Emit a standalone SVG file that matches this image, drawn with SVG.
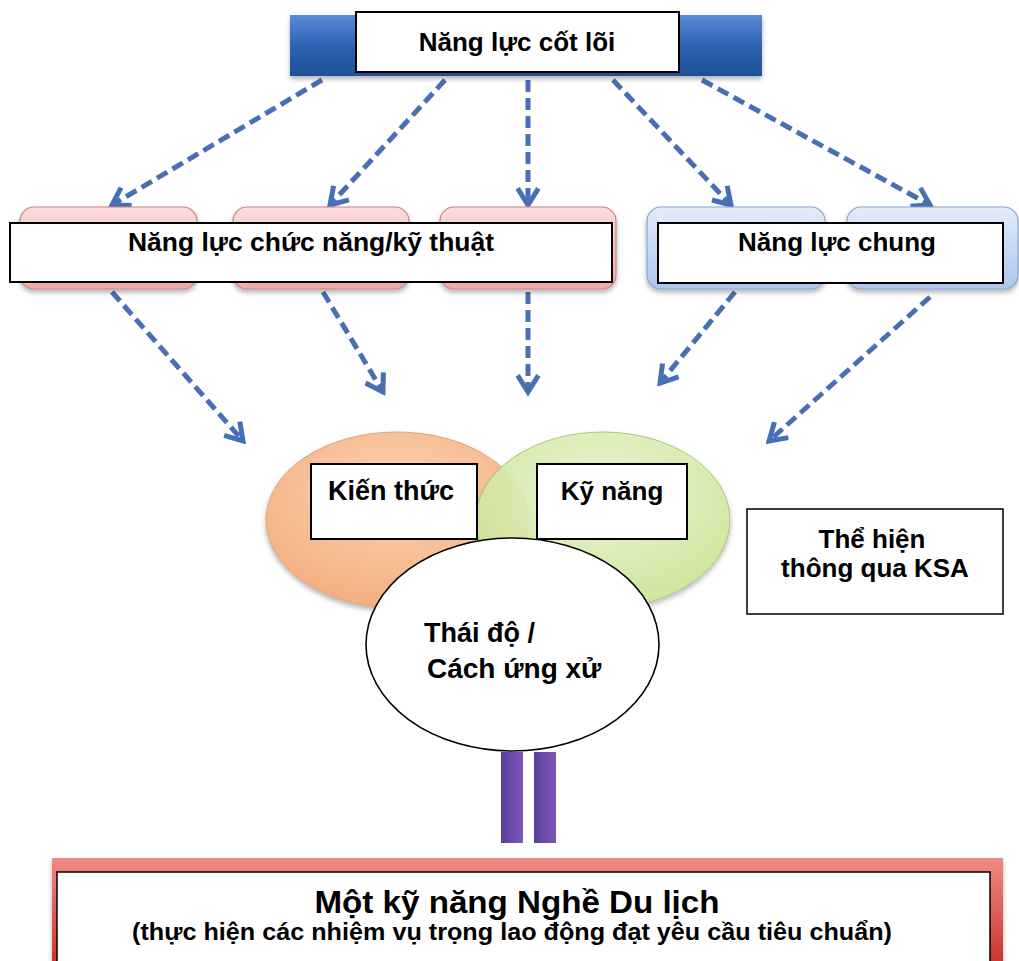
<svg xmlns="http://www.w3.org/2000/svg" width="1019" height="961" viewBox="0 0 1019 961">
<defs>
<style>
.lbl{font-family:"Liberation Sans",Arial,sans-serif;font-weight:bold;fill:#000;}
.wbox{fill:#fff;stroke:#000;stroke-width:2;}
.arr{fill:none;stroke:#4670b4;stroke-width:5;stroke-dasharray:12 6;marker-end:url(#ah);}
</style>
<marker id="ah" viewBox="0 0 12 12" refX="10" refY="6" markerWidth="5" markerHeight="5" orient="auto" markerUnits="strokeWidth">
<path d="M2,1 L10,6 L2,11" fill="none" stroke="#4670b4" stroke-width="2.4" stroke-linejoin="miter"/>
</marker>
<linearGradient id="gBar" x1="0" y1="0" x2="0" y2="1">
<stop offset="0" stop-color="#5b8ad6"/><stop offset="0.5" stop-color="#2f63b4"/><stop offset="1" stop-color="#1f4f98"/>
</linearGradient>
<linearGradient id="gPink" x1="0" y1="0" x2="0" y2="1">
<stop offset="0" stop-color="#fcdcdc"/><stop offset="1" stop-color="#f1a9a9"/>
</linearGradient>
<linearGradient id="gBlue" x1="0" y1="0" x2="0" y2="1">
<stop offset="0" stop-color="#e3ecfa"/><stop offset="1" stop-color="#adc6ee"/>
</linearGradient>
<radialGradient id="gOr" cx="0.5" cy="0.35" r="0.7">
<stop offset="0" stop-color="#fbd5b4"/><stop offset="1" stop-color="#f3ab7c"/>
</radialGradient>
<radialGradient id="gGr" cx="0.5" cy="0.35" r="0.7">
<stop offset="0" stop-color="#eef7d6"/><stop offset="1" stop-color="#c8e68e"/>
</radialGradient>
<linearGradient id="gPur" x1="0" y1="0" x2="1" y2="0">
<stop offset="0" stop-color="#5c3e96"/><stop offset="1" stop-color="#7c57bd"/>
</linearGradient>
<linearGradient id="gRed" x1="0" y1="0" x2="0" y2="1">
<stop offset="0" stop-color="#f08a84"/><stop offset="1" stop-color="#c9302c"/>
</linearGradient>
<filter id="sh" x="-10%" y="-10%" width="120%" height="130%">
<feDropShadow dx="0" dy="3" stdDeviation="2.5" flood-color="#000" flood-opacity="0.3"/>
</filter>
<filter id="soft" x="-10%" y="-10%" width="120%" height="120%">
<feGaussianBlur stdDeviation="0.6"/>
</filter>
</defs>
<rect width="1019" height="961" fill="#fff"/>

<g id="connectors" filter="url(#soft)">
<line class="arr" x1="322" y1="80" x2="112" y2="205"/>
<line class="arr" x1="445" y1="80" x2="330" y2="205"/>
<line class="arr" x1="528" y1="80" x2="528" y2="205"/>
<line class="arr" x1="613" y1="80" x2="731" y2="205"/>
<line class="arr" x1="702" y1="80" x2="930" y2="205"/>
<line class="arr" x1="112" y1="292" x2="243" y2="441"/>
<line class="arr" x1="323" y1="292" x2="383" y2="392"/>
<line class="arr" x1="528" y1="292" x2="528" y2="392"/>
<line class="arr" x1="735" y1="292" x2="660" y2="383"/>
<line class="arr" x1="930" y1="297" x2="769" y2="441"/>
</g>

<g id="core">
<rect x="290" y="15" width="472" height="61" fill="url(#gBar)" filter="url(#sh)"/>
<rect class="wbox" x="356" y="12" width="323" height="60"/>
<text class="lbl" x="517" y="51" font-size="26" text-anchor="middle">Năng lực cốt lõi</text>
</g>

<g id="sub-boxes" filter="url(#sh)">
<rect x="20" y="207" width="177" height="82" rx="14" fill="url(#gPink)" stroke="#c98484" stroke-width="1.2"/>
<rect x="233" y="207" width="176" height="82" rx="14" fill="url(#gPink)" stroke="#c98484" stroke-width="1.2"/>
<rect x="440" y="207" width="176" height="82" rx="14" fill="url(#gPink)" stroke="#c98484" stroke-width="1.2"/>
<rect x="647" y="207" width="178" height="82" rx="14" fill="url(#gBlue)" stroke="#8aa5cf" stroke-width="1.2"/>
<rect x="847" y="207" width="171" height="82" rx="14" fill="url(#gBlue)" stroke="#8aa5cf" stroke-width="1.2"/>
</g>

<g id="functional">
<rect class="wbox" x="10" y="223" width="602" height="59"/>
<text class="lbl" x="311" y="251" font-size="26" text-anchor="middle" textLength="366" lengthAdjust="spacingAndGlyphs">Năng lực chức năng/kỹ thuật</text>
</g>

<g id="general">
<rect class="wbox" x="658" y="223" width="345" height="60"/>
<text class="lbl" x="837" y="251" font-size="26" text-anchor="middle">Năng lực chung</text>
</g>

<g id="knowledge">
<ellipse cx="397" cy="520" rx="131" ry="88" fill="url(#gOr)" stroke="#d9a57e" stroke-width="1" filter="url(#sh)"/>
</g>
<g id="skill-ellipse">
<ellipse cx="603" cy="520" rx="127" ry="88" fill="url(#gGr)" fill-opacity="0.88" stroke="#aac47a" stroke-width="1" filter="url(#sh)"/>
</g>
<g id="knowledge-label">
<rect class="wbox" x="311" y="464" width="166" height="75"/>
<text class="lbl" x="391" y="500" font-size="27" text-anchor="middle">Kiến thức</text>
</g>
<g id="skill-label">
<rect class="wbox" x="537" y="464" width="150" height="75"/>
<text class="lbl" x="612" y="500" font-size="26" text-anchor="middle">Kỹ năng</text>
</g>

<g id="ksa">
<rect x="747" y="509" width="256" height="105" fill="#fff" stroke="#000" stroke-width="1.5"/>
<text class="lbl" x="872" y="548" font-size="26" text-anchor="middle">Thể hiện</text>
<text class="lbl" x="875" y="577" font-size="26" text-anchor="middle">thông qua KSA</text>
</g>

<g id="attitude">
<ellipse cx="512.5" cy="644.5" rx="146.5" ry="106.5" fill="#fff" stroke="#000" stroke-width="1.6"/>
<text class="lbl" x="424" y="642" font-size="27">Thái độ /</text>
<text class="lbl" x="427" y="678" font-size="28">Cách ứng xử</text>
</g>

<g id="equals">
<rect x="501" y="752" width="22" height="91" fill="url(#gPur)"/>
<rect x="534" y="752" width="22" height="91" fill="url(#gPur)"/>
</g>

<g id="result">
<rect x="52" y="858" width="951" height="110" fill="url(#gRed)" filter="url(#sh)"/>
<rect x="57" y="872" width="933" height="100" fill="#fff" stroke="#000" stroke-width="1.5"/>
<text class="lbl" x="517" y="913" font-size="31" text-anchor="middle" textLength="405" lengthAdjust="spacingAndGlyphs">Một kỹ năng Nghề Du lịch</text>
<text class="lbl" x="512" y="940" font-size="23" text-anchor="middle" textLength="760" lengthAdjust="spacingAndGlyphs">(thực hiện các nhiệm vụ trọng lao động đạt yêu cầu tiêu chuẩn)</text>
</g>
</svg>
